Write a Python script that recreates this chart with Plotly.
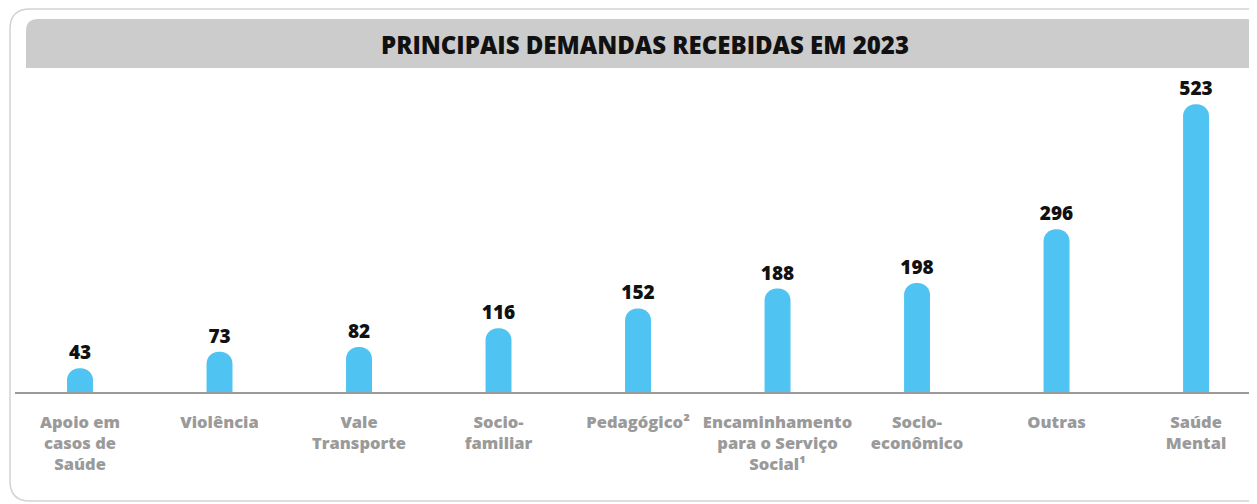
import plotly.graph_objects as go

categories = [
    "Apoio em<br>casos de<br>Saúde",
    "Violência",
    "Vale<br>Transporte",
    "Socio-<br>familiar",
    "Pedagógico²",
    "Encaminhamento<br>para o Serviço<br>Social¹",
    "Socio-<br>econômico",
    "Outras",
    "Saúde<br>Mental",
]
values = [43, 73, 82, 116, 152, 188, 198, 296, 523]
title_text = "PRINCIPAIS DEMANDAS RECEBIDAS EM 2023"

# the page places the figure 8px in from the window's top-left corner
OFF = 8
W, H = 1257 - OFF, 504 - OFF
ML, MR, MT, MB = 15 - OFF, 0, 70 - OFF, 504 - 392
PW, PH = W - ML - MR, H - MT - MB


def px(x):
    return (x - OFF - ML) / PW


def py(y):
    return (504 - MB - y) / PH


BAR_COLOR = "#4FC4F2"
FONT = "Open Sans"

fig = go.Figure(
    go.Bar(
        x=categories,
        y=values,
        text=[str(v) for v in values],
        textposition="outside",
        constraintext="none",
        textfont=dict(family=FONT, size=19, color="#111111", weight=800),
        marker=dict(color=BAR_COLOR, cornerradius="50%", line=dict(width=0)),
        cliponaxis=False,
        hoverinfo="skip",
    )
)

r = 20
frame = (
    f"M {px(1275)},{py(501)} L {px(10 + r)},{py(501)} "
    f"Q {px(10)},{py(501)} {px(10)},{py(501 - r)} "
    f"L {px(10)},{py(9 + r)} Q {px(10)},{py(9)} {px(10 + r)},{py(9)} "
    f"L {px(1275)},{py(9)}"
)
rb = 12
band = (
    f"M {px(26)},{py(68)} L {px(26)},{py(19 + rb)} "
    f"Q {px(26)},{py(19)} {px(26 + rb)},{py(19)} "
    f"L {px(1258 - rb)},{py(19)} Q {px(1258)},{py(19)} {px(1258)},{py(19 + rb)} "
    f"L {px(1258)},{py(68)} Z"
)

fig.update_layout(
    width=W,
    height=H,
    margin=dict(l=ML, r=MR, t=MT, b=MB, pad=0),
    paper_bgcolor="white",
    plot_bgcolor="white",
    showlegend=False,
    bargap=0.814,
    title=dict(
        text=title_text,
        x=(645 - OFF) / W,
        xref="container",
        xanchor="center",
        y=1 - (46 - OFF) / H,
        yref="container",
        yanchor="middle",
        font=dict(family=FONT, size=24, color="#111111", weight=800),
    ),
    shapes=[
        dict(type="path", path=frame, xref="paper", yref="paper",
             line=dict(color="#d2d2d2", width=1.5), layer="below"),
        dict(type="path", path=band, xref="paper", yref="paper",
             fillcolor="#cccccc", line=dict(width=0), layer="below"),
    ],
    xaxis=dict(
        type="category",
        range=[-0.466, 8.437],
        showline=True,
        linecolor="#9a9a9a",
        linewidth=1.5,
        showgrid=False,
        zeroline=False,
        ticks="",
        ticklabelstandoff=14,
        tickfont=dict(family=FONT, size=16.5, color="#9a9a9a", weight=800),
        fixedrange=True,
    ),
    yaxis=dict(
        range=[0, PH / 0.55],
        visible=False,
        showgrid=False,
        zeroline=False,
        fixedrange=True,
    ),
)

fig.write_html("out.html")
